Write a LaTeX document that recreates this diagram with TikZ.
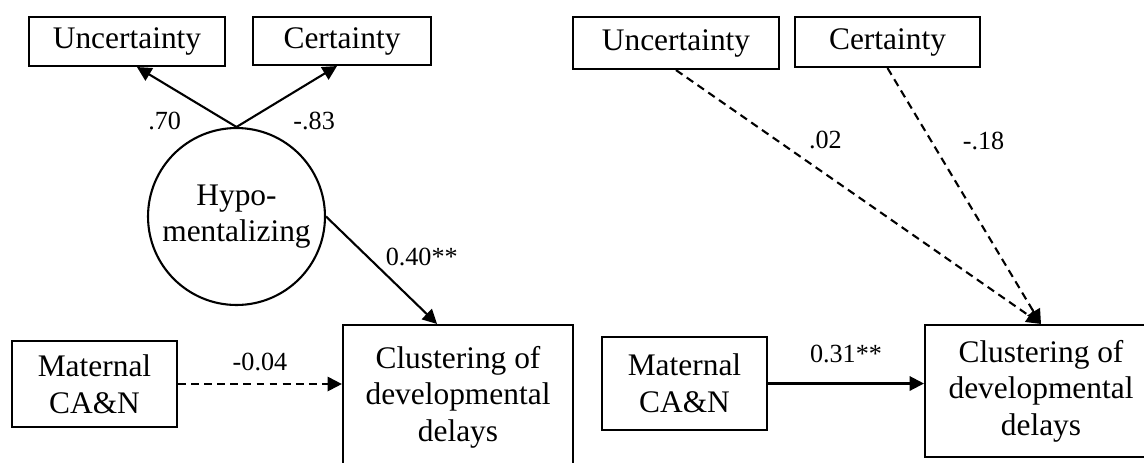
\documentclass[tikz,border=0pt]{standalone}
\usepackage{fontspec}
\setmainfont{Liberation Serif}
\usetikzlibrary{arrows.meta,positioning}

\begin{document}
\begin{tikzpicture}
	[x=0.382pt, y=-0.382pt, inner sep=0pt, line width=0.8pt,
	font=\fontsize{12}{14}\selectfont,
	latent/.style	= {circle, draw, align=center, minimum size=67.6pt},
	manifest/.style	= {rectangle, draw, align=center},
	paths/.style	= {->, >={Triangle[length=5.5pt, width=5.5pt]}},
	nspaths/.style	= {paths, dash pattern=on 3pt off 2pt},
	coef/.style		= {font=\fontsize{10}{12}\selectfont, inner sep=1pt}]
	
	\useasboundingbox (0, 0) rectangle (1144, 462);
	
	\node at (127, 41.5)	[manifest, minimum width=74.9pt, minimum height=18.7pt]	(unc1)	{Uncertainty};
	\node at (342, 41)		[manifest, minimum width=68pt, minimum height=18.3pt]	(cer1)	{Certainty};
	\node at (236.5, 216.5)	[latent]	(hyp)	{Hypo-\\mentalizing};
	\node at (94.5, 384)	[manifest, minimum width=63pt, minimum height=32.9pt]	(mat1)	{Maternal\\CA\&N};
	\node at (458, 397)		[manifest, minimum width=87.9pt, minimum height=55pt]	(clu1)	{Clustering of\\developmental\\delays};
	
	\node at (676, 43)		[manifest, minimum width=78.7pt, minimum height=19.9pt]	(unc2)	{Uncertainty};
	\node at (887.5, 42)	[manifest, minimum width=70.7pt, minimum height=19.1pt]	(cer2)	{Certainty};
	\node at (684.5, 383.5)	[manifest, minimum width=63pt, minimum height=35.5pt]	(mat2)	{Maternal\\CA\&N};
	\node at (1041, 391)	[manifest, minimum width=88.6pt, minimum height=50.4pt]	(clu2)	{Clustering of\\developmental\\delays};
	
	\draw [paths] (hyp.north) -- ([xshift=3.8pt]unc1.south) node[coef, pos=0.1, left=16pt] (b1) {.70};
	\draw [paths] (hyp.north) -- ([xshift=-1.9pt]cer1.south) node[coef, pos=0.1, right=16.5pt] (b2) {-.83};
	\draw [paths] (hyp.east) -- ([xshift=-8pt]clu1.north) node[coef, pos=0.38, right=5.3pt] (b3) {0.40**};
	\draw [nspaths] (mat1.east) -- (mat1.east -| clu1.west) node[coef, midway, above=3.6pt] (b4) {-0.04};
	
	\draw [nspaths] (unc2.south) -- (clu2.north) node[coef, pos=0.277, right=10.8pt] (b5) {.02};
	\draw [nspaths] (cer2.south) -- (clu2.north) node[coef, pos=0.283, right=10.8pt] (b6) {-.18};
	\draw [paths] (mat2.east) -- (mat2.east -| clu2.west) node[coef, midway, above=6.3pt] (b7) {0.31**};
\end{tikzpicture}
\end{document}
